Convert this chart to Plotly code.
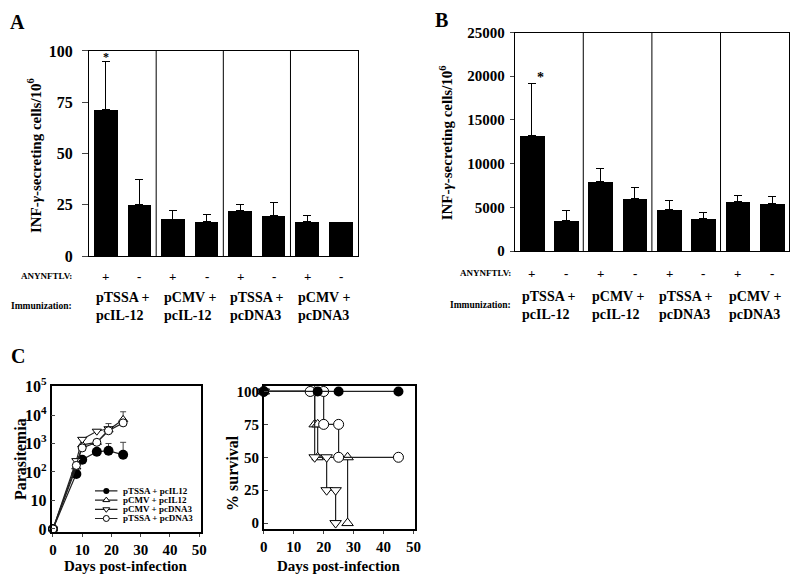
import plotly.graph_objects as go

# ---- data ----
cats = list(range(8))
anynftlv = ["+", "-", "+", "-", "+", "-", "+", "-"]
groups = ["pTSSA +<br>pcIL-12", "pCMV +<br>pcIL-12", "pTSSA +<br>pcDNA3", "pCMV +<br>pcDNA3"]

a_vals = [71.4, 25.1, 17.9, 16.8, 22.0, 19.6, 16.6, 16.5]
a_err = [23.6, 12.3, 4.1, 3.3, 3.1, 6.3, 3.2, None]

b_vals = [13270, 3540, 7960, 5970, 4750, 3760, 5640, 5420]
b_err = [5870, 1110, 1550, 1330, 1000, 660, 780, 880]
b_ticks = [0, 5000, 10000, 15000, 20000, 25000]

days = [0, 8, 10, 15, 19, 24]
tssa_il12 = [1, 85, 270, 510, 560, 400]
tssa_il12_err = [None, None, None, None, 440, 700]
cmv_il12 = [1, 150, 900, 1100, 3000, 7000]
cmv_il12_err = [None, None, None, None, 2000, 6000]
cmv_dna3 = [1, 250, 1400, 2700, 3300]
tssa_dna3 = [1, 170, 700, 1100, 2800, 5300]

surv_tssa_il12_x = [0, 18, 25, 45]
surv_tssa_il12_y = [100, 100, 100, 100]
surv_cmv_il12_x = [0, 17, 17, 18, 18, 28, 28]
surv_cmv_il12_y = [100, 100, 75, 75, 50, 50, 0]
surv_cmv_dna3_x = [0, 17, 17, 21, 21, 24, 24]
surv_cmv_dna3_y = [100, 100, 50, 50, 25, 25, 0]
surv_tssa_dna3_x = [0, 15.5, 20, 20, 25, 25, 45]
surv_tssa_dna3_y = [100, 100, 100, 75, 75, 50, 50]

series_names = ["pTSSA + pcIL12", "pCMV + pcIL12", "pCMV + pcDNA3", "pTSSA + pcDNA3"]

W, H = 800, 586
OFF = 8  # page body margin
SERIF = "Liberation Serif"
LC = "#222"


def px(x):
    return (x - OFF) / W


def py(y):
    return 1 - (y - OFF) / H


def bold(size):
    return dict(family=SERIF, size=size, color="black", weight="bold")


fig = go.Figure()

# ---- A and B bars ----
fig.add_trace(go.Bar(x=cats, y=a_vals, width=0.7, marker=dict(color="black", line_width=0),
                     error_y=dict(type="data", array=a_err, symmetric=False, arrayminus=[0] * 8,
                                  color="black", thickness=1, width=4),
                     xaxis="x", yaxis="y", showlegend=False))
fig.add_trace(go.Bar(x=cats, y=b_vals, width=0.72, marker=dict(color="black", line_width=0),
                     error_y=dict(type="data", array=b_err, symmetric=False, arrayminus=[0] * 8,
                                  color="black", thickness=1, width=4),
                     xaxis="x2", yaxis="y2", showlegend=False))

# ---- C left: parasitemia ----
open_m = dict(color="white", line=dict(color="black", width=1), size=8)
fig.add_trace(go.Scatter(x=days, y=tssa_il12, mode="lines+markers", xaxis="x3", yaxis="y3",
                         line=dict(color=LC, width=1.2),
                         marker=dict(symbol="circle", color="black", size=10),
                         error_y=dict(type="data", array=tssa_il12_err, symmetric=False,
                                      arrayminus=[0] * 6, color="#444", thickness=1, width=3),
                         showlegend=False, cliponaxis=False))
fig.add_trace(go.Scatter(x=days, y=cmv_il12, mode="lines+markers", xaxis="x3", yaxis="y3",
                         line=dict(color=LC, width=1.2), marker=dict(symbol="triangle-up", **open_m),
                         error_y=dict(type="data", array=cmv_il12_err, symmetric=False,
                                      arrayminus=[0] * 6, color="#444", thickness=1, width=3),
                         showlegend=False, cliponaxis=False))
fig.add_trace(go.Scatter(x=days[:5], y=cmv_dna3, mode="lines+markers", xaxis="x3", yaxis="y3",
                         line=dict(color=LC, width=1.2), marker=dict(symbol="triangle-down", **open_m),
                         showlegend=False, cliponaxis=False))
fig.add_trace(go.Scatter(x=days, y=tssa_dna3, mode="lines+markers", xaxis="x3", yaxis="y3",
                         line=dict(color=LC, width=1.2), marker=dict(symbol="circle", **open_m),
                         showlegend=False, cliponaxis=False))

# ---- C right: survival ----
surv = [
    (surv_cmv_il12_x, surv_cmv_il12_y, "triangle-up", False),
    (surv_cmv_dna3_x, surv_cmv_dna3_y, "triangle-down", False),
    (surv_tssa_dna3_x, surv_tssa_dna3_y, "circle", False),
    (surv_tssa_il12_x, surv_tssa_il12_y, "circle", True),
]
for sx, sy, sym, filled in surv:
    m = dict(symbol=sym, color="black", size=10) if filled else dict(symbol=sym, color="white",
                                                                       line=dict(color="black", width=1), size=10)
    fig.add_trace(go.Scatter(x=sx, y=sy, mode="lines+markers", xaxis="x4", yaxis="y4",
                             line=dict(color=LC, width=1.2), marker=m, showlegend=False, cliponaxis=False))

# ---- custom legend for C left ----
leg_syms = [("circle", True), ("triangle-up", False), ("triangle-down", False), ("circle", False)]
for i, (sym, filled) in enumerate(leg_syms):
    k = 3 - i
    fig.add_trace(go.Scatter(x=[0, 1], y=[k, k], mode="lines", xaxis="x5", yaxis="y5",
                             line=dict(color=LC, width=1.2), showlegend=False, hoverinfo="skip"))
    m = dict(symbol=sym, color="black", size=6) if filled else dict(symbol=sym, color="white",
                                                                      line=dict(color="black", width=1), size=6)
    fig.add_trace(go.Scatter(x=[0.5], y=[k], mode="markers", xaxis="x5", yaxis="y5",
                             marker=m, showlegend=False, hoverinfo="skip"))

ax_common = dict(showline=True, linecolor="black", linewidth=1, mirror=True, showgrid=False,
                 zeroline=False)
ax_c = dict(showline=True, linecolor="black", linewidth=1.5, mirror=True, showgrid=False,
            zeroline=False)

fig.update_layout(
    width=W, height=H, margin=dict(l=0, r=0, t=0, b=0),
    paper_bgcolor="white", plot_bgcolor="white", bargap=0,
    xaxis=dict(domain=[px(86), px(358)], range=[-0.5, 7.5], showticklabels=False, ticks="", **ax_common),
    yaxis=dict(domain=[py(254), py(42)], range=[0, 100], tickvals=[0, 25, 50, 75, 100],
               ticks="outside", ticklen=6, tickfont=bold(16), ticklabelstandoff=6, **ax_common),
    xaxis2=dict(domain=[px(517), px(795)], range=[-0.5, 7.5], showticklabels=False, ticks="",
                anchor="y2", **ax_common),
    yaxis2=dict(domain=[py(249), py(23)], range=[0, 25000], tickvals=b_ticks,
                ticktext=[str(t) for t in b_ticks],
                ticks="outside", ticklen=4, tickfont=bold(15), ticklabelstandoff=2, anchor="x2",
                **ax_common),
    xaxis3=dict(domain=[px(48), px(199)], range=[-0.5, 50.5], tickvals=[0, 10, 20, 30, 40, 50],
                ticks="outside", ticklen=3, tickfont=bold(15), ticklabelstandoff=0, anchor="y3", **ax_c),
    yaxis3=dict(domain=[py(539), py(388)], type="log", range=[-0.1, 5.03],
                tickvals=[1, 10, 100, 1000, 10000, 100000],
                ticktext=["0", "10", "10<sup>2</sup>", "10<sup>3</sup>", "10<sup>4</sup>", "10<sup>5</sup>"],
                ticks="inside", ticklen=4, tickfont=bold(16), anchor="x3", **ax_c),
    xaxis4=dict(domain=[px(263), px(416)], range=[0, 50.5], tickvals=[0, 10, 20, 30, 40, 50],
                ticks="outside", ticklen=3, tickfont=bold(15), ticklabelstandoff=0, anchor="y4", **ax_c),
    yaxis4=dict(domain=[py(536), py(388)], range=[-4.4, 104.4], tickvals=[0, 25, 50, 75, 100],
                ticks="inside", ticklen=4, tickfont=bold(15), anchor="x4", **ax_c),
    xaxis5=dict(domain=[px(92), px(115)], range=[0, 1], visible=False, anchor="y5"),
    yaxis5=dict(domain=[py(530), py(492)], range=[-0.5, 3.5], visible=False, anchor="x5"),
)

shapes = []
for sep in [1.5, 3.5, 5.5]:
    shapes.append(dict(type="line", xref="x", yref="y domain", x0=sep, x1=sep, y0=0, y1=1,
                       line=dict(color="black", width=1)))
    shapes.append(dict(type="line", xref="x2", yref="y2 domain", x0=sep, x1=sep, y0=0, y1=1,
                       line=dict(color="black", width=1)))
fig.update_layout(shapes=shapes)

ann = []
# panel letters
for letter, lx, ly in [("A", 14, 12), ("B", 443, 10), ("C", 14, 357)]:
    ann.append(dict(text=letter, x=px(lx), y=py(ly), xref="paper", yref="paper", showarrow=False,
                    font=bold(20), xanchor="center", yanchor="middle"))

# y titles for A and B
ytitle = "INF-<i>γ</i>-secreting cells/10<sup>6</sup>"
ann.append(dict(text=ytitle, x=px(31), y=py(150), xref="paper", yref="paper", showarrow=False,
                textangle=-90, font=bold(15), xanchor="center", yanchor="middle"))
ann.append(dict(text=ytitle, x=px(447), y=py(137), xref="paper", yref="paper", showarrow=False,
                textangle=-90, font=bold(15), xanchor="center", yanchor="middle"))

# asterisks
ann.append(dict(text="*", x=0, y=97, xref="x", yref="y", showarrow=False, font=bold(12),
                yanchor="middle"))
ann.append(dict(text="*", x=0.1, y=19900, xref="x2", yref="y2", showarrow=False, font=bold(14),
                xanchor="left", yanchor="middle"))

# category rows
for xa, row_y, lab_x, grp_y in [("x", 275, 71, 306), ("x2", 272, 515, 305)]:
    ann.append(dict(text="ANYNFTLV:", x=px(lab_x), y=py(row_y), xref="paper", yref="paper",
                    showarrow=False, font=bold(9), xanchor="right", yanchor="middle"))
    ann.append(dict(text="Immunization:", x=px(lab_x), y=py(grp_y), xref="paper", yref="paper",
                    showarrow=False, font=bold(9.5), xanchor="right", yanchor="middle"))
    for c, s in zip(cats, anynftlv):
        ann.append(dict(text=s, x=c, y=py(row_y), xref=xa, yref="paper", showarrow=False,
                        font=bold(13), xanchor="center", yanchor="middle"))
    for g, txt in enumerate(groups):
        ann.append(dict(text=txt, x=2 * g + 0.5, y=py(grp_y), xref=xa, yref="paper", showarrow=False,
                        font=bold(14), xanchor="center", yanchor="middle", align="left"))

# C titles
ann.append(dict(text="Parasitemia", x=px(16), y=py(464), xref="paper", yref="paper", showarrow=False,
                textangle=-90, font=bold(16), xanchor="center", yanchor="middle"))
ann.append(dict(text="Days post-infection", x=px(123), y=py(574), xref="paper", yref="paper",
                showarrow=False, font=bold(15), xanchor="center", yanchor="middle"))
ann.append(dict(text="% survival", x=px(232), y=py(478), xref="paper", yref="paper", showarrow=False,
                textangle=-90, font=bold(16), xanchor="center", yanchor="middle"))
ann.append(dict(text="Days post-infection", x=px(339), y=py(574), xref="paper", yref="paper",
                showarrow=False, font=bold(15), xanchor="center", yanchor="middle"))
for d, v, t in [(10, 150, "*"), (15, 170, "*<br>*"), (19, 180, "*<br>*")]:
    ann.append(dict(text=t, x=d, y=v, xref="x3", yref="y3", showarrow=False,
                    font=dict(family=SERIF, size=7, color="#555"), yanchor="top"))
for i, name in enumerate(series_names):
    ann.append(dict(text=name, x=px(118), y=py(497 + 9.4 * i), xref="paper", yref="paper",
                    showarrow=False, font=bold(9), xanchor="left", yanchor="middle"))

fig.update_layout(annotations=ann)
fig.write_html("out.html")
